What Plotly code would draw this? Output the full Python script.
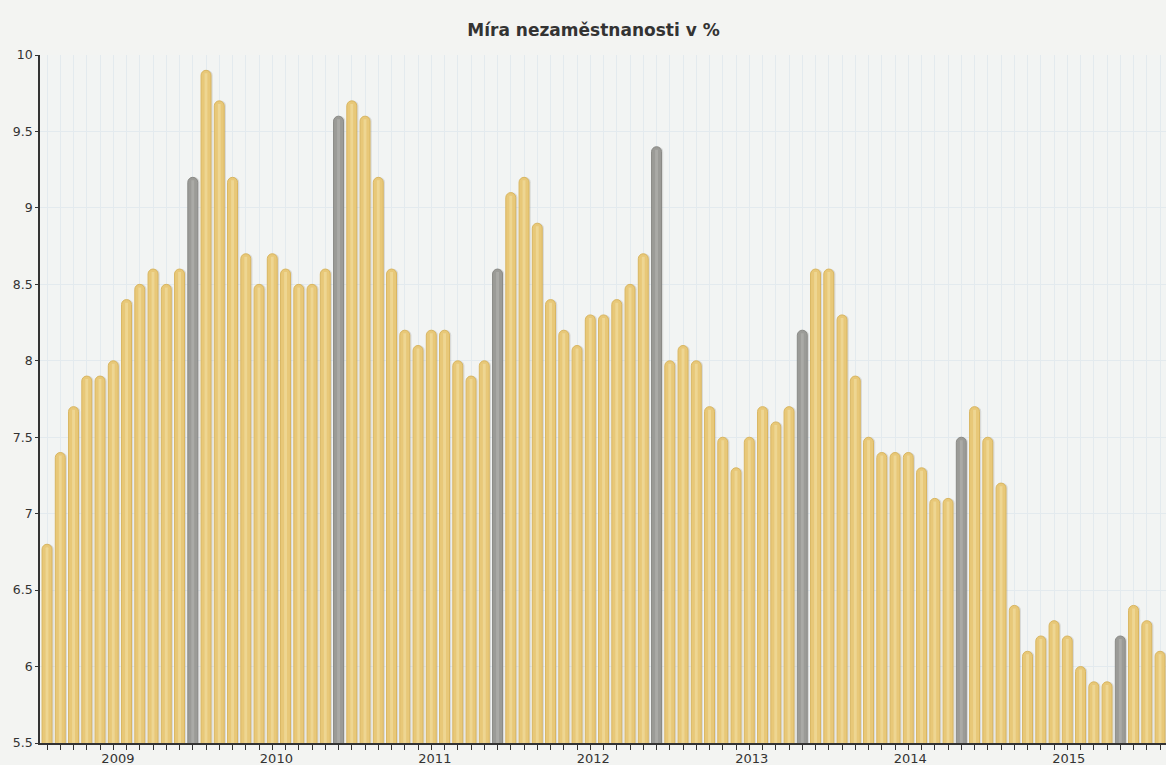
import plotly.graph_objects as go

# Monthly unemployment rate (%), left to right
values = [
    6.8, 7.4, 7.7, 7.9, 7.9, 8.0, 8.4, 8.5, 8.6, 8.5, 8.6, 9.2,
    9.9, 9.7, 9.2, 8.7, 8.5, 8.7, 8.6, 8.5, 8.5, 8.6, 9.6,
    9.7, 9.6, 9.2, 8.6, 8.2, 8.1, 8.2, 8.2, 8.0, 7.9, 8.0, 8.6,
    9.1, 9.2, 8.9, 8.4, 8.2, 8.1, 8.3, 8.3, 8.4, 8.5, 8.7, 9.4,
    8.0, 8.1, 8.0, 7.7, 7.5, 7.3, 7.5, 7.7, 7.6, 7.7, 8.2,
    8.6, 8.6, 8.3, 7.9, 7.5, 7.4, 7.4, 7.4, 7.3, 7.1, 7.1, 7.5,
    7.7, 7.5, 7.2, 6.4, 6.1, 6.2, 6.3, 6.2, 6.0, 5.9, 5.9, 6.2,
    6.4, 6.3, 6.1,
]
# bars drawn in grey (year-end months)
grey_bars = [11, 22, 34, 46, 57, 69, 81]
year_labels = ["2009", "2010", "2011", "2012", "2013", "2014", "2015"]

n = len(values)
x = list(range(n))
YELLOW = "#E8C878"
YELLOW_EDGE = "#D9B661"
YELLOW_HI = "#F1DB9C"
GREY = "#9B9B97"
GREY_EDGE = "#8A8A86"
GREY_HI = "#B0B0AC"

main_colors = [GREY if i in grey_bars else YELLOW for i in x]
edge_colors = [GREY_EDGE if i in grey_bars else YELLOW_EDGE for i in x]
hi_colors = [GREY_HI if i in grey_bars else YELLOW_HI for i in x]

fig = go.Figure()
# soft shadow
fig.add_trace(go.Bar(
    x=[i + 0.13 for i in x], y=values, width=0.75,
    marker=dict(color="rgba(90,90,80,0.16)", line=dict(width=0), cornerradius="50%"),
    hoverinfo="skip", showlegend=False,
))
# main bars
fig.add_trace(go.Bar(
    x=x, y=values, width=0.75,
    marker=dict(color=main_colors, line=dict(color=edge_colors, width=1), cornerradius="50%"),
    showlegend=False,
))
# highlight stripe
fig.add_trace(go.Bar(
    x=x, y=[v - 0.02 for v in values], width=0.22,
    marker=dict(color=hi_colors, opacity=0.7, line=dict(width=0), cornerradius="50%"),
    hoverinfo="skip", showlegend=False,
))

year_pos = [5.35 + 11.96 * k for k in range(len(year_labels))]

fig.update_layout(
    width=1166, height=765,
    barmode="overlay",
    paper_bgcolor="#F3F4F2",
    plot_bgcolor="#F2F4F3",
    margin=dict(l=40, r=0, t=55, b=22),
    font=dict(family="DejaVu Sans, Verdana, sans-serif", size=12, color="#333333"),
    title=dict(
        text="<b>Míra nezaměstnanosti v %</b>",
        x=0.509, xanchor="center", y=1 - 30 / 765, yanchor="middle",
        font=dict(size=17, color="#333333"),
    ),
    xaxis=dict(
        range=[-0.53, 84.45],
        tickvals=year_pos, ticktext=year_labels,
        ticks="", showgrid=False, zeroline=False,
        showline=True, linecolor="#333333", linewidth=1.5,
        tickfont=dict(size=13, color="#333333"),
        ticklabelstandoff=3,
        minor=dict(ticks="outside", tick0=0, dtick=1, ticklen=5,
                   tickcolor="#333333", tickwidth=1,
                   showgrid=True, gridcolor="#E3EAEE", gridwidth=1),
        fixedrange=True,
    ),
    yaxis=dict(
        range=[5.5, 10], dtick=0.5, tick0=5.5,
        showline=True, linecolor="#333333", linewidth=1.5,
        ticks="outside", ticklen=3, tickcolor="#333333",
        showgrid=True, gridcolor="#E3EAEE", gridwidth=1,
        zeroline=False,
        tickfont=dict(size=12.5, color="#333333"),
        fixedrange=True,
    ),
)

fig.write_html(
    "out.html",
    config={"displayModeBar": False},
    post_script="document.body.style.margin='0px';document.body.style.overflow='hidden';"
                "document.documentElement.style.overflow='hidden';",
)
